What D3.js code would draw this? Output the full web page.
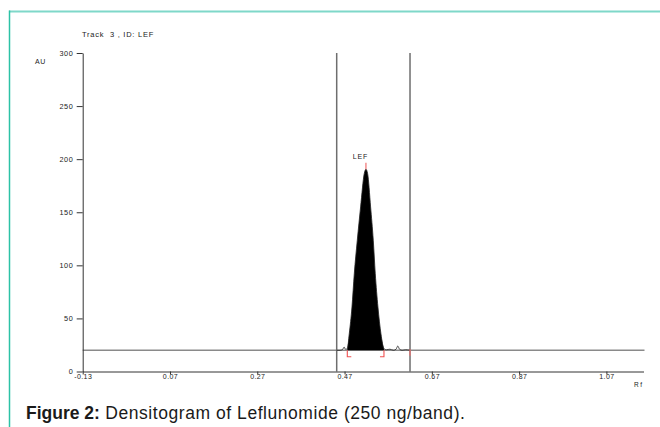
<!DOCTYPE html>
<html>
<head>
<meta charset="utf-8">
<script src="https://cdn.jsdelivr.net/npm/d3@7"></script>
<style>
  html, body { margin: 0; padding: 0; background: #fff; }
  svg { display: block; }
  text { font-family: "Liberation Sans", Arial, sans-serif; }
</style>
</head>
<body>
<svg id="chart" width="660" height="427"></svg>
<script>
// ---- data ----
const xTicks = [-0.13, 0.07, 0.27, 0.47, 0.67, 0.87, 1.07];
const xTickLabels = ["-0.13", "0.07", "0.27", "0.47", "0.67", "0.87", "1.07"];
const yTicks = [0, 50, 100, 150, 200, 250, 300];
const yTickLabels = ["0", "50", "100", "150", "200", "250", "300"];
const baselineAU = 20;
const windowRf = [0.452, 0.620];           // integration window (vertical lines)
const peakRf = [0.4763, 0.5603];           // peak start / end
const peakApexRf = 0.519;
const peakApexAU = 190.5;
const peakName = "LEF";
const profileRf = [0.452, 0.460, 0.466, 0.469, 0.472, 0.4763, 0.4808, 0.4870, 0.4923, 0.4992, 0.5068, 0.5152, 0.5190, 0.5228, 0.5297, 0.5358, 0.5404, 0.5465, 0.5534, 0.5603, 0.566, 0.574, 0.582, 0.588, 0.592, 0.596, 0.602, 0.610, 0.620];
const profileAU = [20, 20, 21, 23, 21, 21.4, 35.5, 60.7, 92.1, 123.6, 155, 186.5, 190.5, 186.5, 155, 123.6, 92.1, 60.7, 35.5, 21.4, 20.5, 21, 20, 21, 24, 21, 20, 20.5, 20];
const title = "Track  3 , ID: LEF";
const captionBold = "Figure 2:";
const captionText = " Densitogram of Leflunomide (250 ng/band).";

// ---- chart ----
const svg = d3.select("#chart");
const x = d3.scaleLinear().domain([-0.13, 1.155]).range([82.7, 643.5]);
const y = d3.scaleLinear().domain([0, 300]).range([371.5, 53]);

// frame
svg.append("line").attr("x1", 9).attr("x2", 660).attr("y1", 11.5).attr("y2", 11.5)
  .attr("stroke", "#7fd8c9").attr("stroke-width", 2);
svg.append("line").attr("x1", 9.5).attr("x2", 9.5).attr("y1", 10.5).attr("y2", 427)
  .attr("stroke", "#2cc2a6").attr("stroke-width", 1.5);

// title & axis names
svg.append("text").attr("x", 82).attr("y", 37).attr("font-size", 7.5).attr("fill", "#222")
  .attr("letter-spacing", 0.75).attr("xml:space", "preserve").text(title);
svg.append("text").attr("x", 35).attr("y", 64).attr("font-size", 7).attr("fill", "#222")
  .attr("letter-spacing", 0.5).text("AU");
svg.append("text").attr("x", 634).attr("y", 387).attr("font-size", 6.5).attr("fill", "#222")
  .attr("letter-spacing", 1.5).text("Rf");

// baseline
svg.append("line").attr("x1", x(-0.13)).attr("x2", x(1.155) + 1)
  .attr("y1", y(baselineAU)).attr("y2", y(baselineAU))
  .attr("stroke", "#8a8a8a").attr("stroke-width", 1.5);

// window lines
svg.selectAll(".win").data(windowRf).enter().append("line")
  .attr("x1", d => x(d)).attr("x2", d => x(d)).attr("y1", y(0)).attr("y2", y(300))
  .attr("stroke", "#6e6e6e").attr("stroke-width", 1.5);

// peak fill
const pts = profileRf.map((r, i) => ({ r, v: profileAU[i] }));
const peakPts = pts.filter(p => p.r >= peakRf[0] - 1e-9 && p.r <= peakRf[1] + 1e-9);
svg.append("path").datum(peakPts)
  .attr("d", d3.area().x(d => x(d.r)).y0(y(baselineAU)).y1(d => y(d.v)).curve(d3.curveMonotoneX))
  .attr("fill", "#000");
// profile line
svg.append("path").datum(pts)
  .attr("d", d3.line().x(d => x(d.r)).y(d => y(d.v)).curve(d3.curveMonotoneX))
  .attr("fill", "none").attr("stroke", "#222").attr("stroke-width", 0.8);

// red markers
const red = "#f05050";
svg.append("line").attr("x1", x(peakApexRf)).attr("x2", x(peakApexRf))
  .attr("y1", y(peakApexAU)).attr("y2", y(peakApexAU) - 6.5).attr("stroke", "#f07070").attr("stroke-width", 1.2);
const bk = (r, dir) => `M${x(r) + dir * 4},${y(baselineAU) + 6.5}H${x(r)}V${y(baselineAU)}`;
svg.append("path").attr("d", bk(peakRf[0], 1)).attr("fill", "none").attr("stroke", red).attr("stroke-width", 1.1);
svg.append("path").attr("d", bk(peakRf[1], -1)).attr("fill", "none").attr("stroke", red).attr("stroke-width", 1.1);
svg.append("line").attr("x1", x(windowRf[1])).attr("x2", x(windowRf[1]))
  .attr("y1", y(baselineAU) - 1).attr("y2", y(baselineAU) + 5.5).attr("stroke", "#f07070").attr("stroke-width", 1.2);

svg.append("text").attr("x", x(peakApexRf) - 5.5).attr("y", 158.5).attr("text-anchor", "middle")
  .attr("font-size", 7).attr("letter-spacing", 0.8).attr("fill", "#222").text(peakName);

// axes
const xAxis = d3.axisBottom(x).tickValues(xTicks).tickFormat((d, i) => xTickLabels[i]).tickSize(3).tickSizeOuter(0);
const gx = svg.append("g").attr("transform", `translate(0,${y(0)})`).call(xAxis);
gx.select(".domain").attr("stroke", "#333");
gx.selectAll(".tick line").attr("stroke", "#333");
gx.selectAll("text").attr("font-size", 7).attr("fill", "#222").attr("dy", "0.55em").attr("y", 3.5)
  .attr("letter-spacing", 0.4).attr("font-family", "'Liberation Sans', Arial, sans-serif");

const yAxis = d3.axisLeft(y).tickValues(yTicks).tickFormat((d, i) => yTickLabels[i]).tickSize(6).tickSizeOuter(0);
const gy = svg.append("g").attr("transform", `translate(${x(-0.13)},0)`).call(yAxis);
gy.select(".domain").attr("stroke", "#333");
gy.selectAll(".tick line").attr("stroke", "#333");
gy.selectAll("text").attr("font-size", 7.3).attr("fill", "#222").attr("x", -9.5)
  .attr("letter-spacing", 0.5).attr("font-family", "'Liberation Sans', Arial, sans-serif");

// caption
const cap = svg.append("text").attr("x", 26).attr("y", 418.5).attr("font-size", 17.5).attr("fill", "#1a1a1a");
cap.append("tspan").attr("font-weight", "bold").text(captionBold);
cap.append("tspan").attr("xml:space", "preserve").attr("letter-spacing", 0.55).text(captionText);
</script>
</body>
</html>
